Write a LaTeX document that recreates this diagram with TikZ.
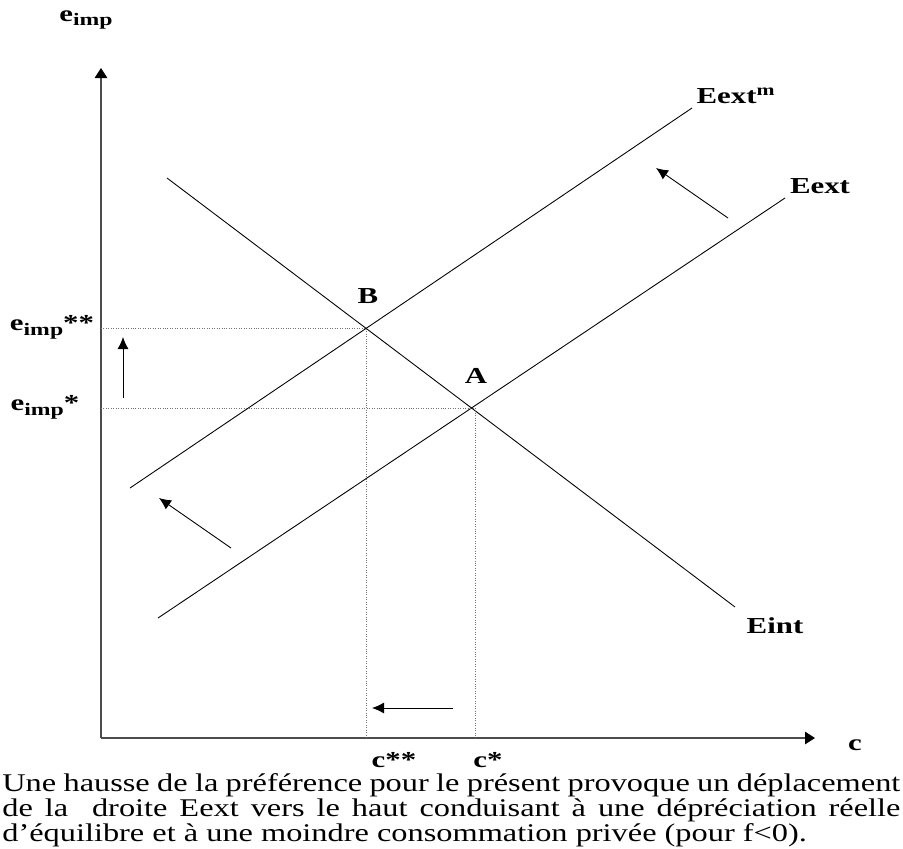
\documentclass[tikz,border=0pt]{standalone}
\usepackage{fontspec}
\setmainfont{Liberation Serif}
\newfontfamily\lblfont[FakeStretch=1.35]{Liberation Serif}
\newfontfamily\notefont[FakeStretch=1.27]{Liberation Serif}
\usetikzlibrary{arrows.meta}

\tikzset{
	axis/.style={line width=0.7pt, black!70, -{Triangle[length=2mm, width=2.5mm, fill=black, color=black]}},
	curve/.style={line width=0.5pt, black},
	guide/.style={densely dotted, line width=0.4pt, black!55},
	movearrow/.style={line width=0.5pt, black, -{Latex[length=2.4mm, width=2.2mm]}},
	lbl/.style={font=\lblfont\bfseries\fontsize{13}{15}\selectfont, inner sep=0pt},
}
\newcommand{\eimp}{e\raisebox{-0.45ex}{\fontsize{10}{12}\selectfont imp}}

\begin{document}
\begin{tikzpicture}[x=0.2mm, y=-0.2mm]
			\useasboundingbox (0, 0) rectangle (903, 848);

			% axes
			\coordinate (O) at (101, 738);
			\coordinate (ytop) at (101, 68);
			\coordinate (xend) at (815, 738);
			\draw[axis] (O) -- (ytop);
			\draw[axis] (O) -- (xend);
			\node[lbl] (ylab) at (86, 20) {\eimp};
			\node[lbl] (xlab) at (855, 745) {c};

			% curves
			\coordinate (eint_a) at (167, 178);
			\coordinate (eint_b) at (735, 607);
			\coordinate (eextm_a) at (130, 488);
			\coordinate (eextm_b) at (692, 108);
			\coordinate (eext_a) at (158, 618);
			\coordinate (eext_b) at (785, 198);
			\draw[curve] (eint_a) -- (eint_b);
			\draw[curve] (eextm_a) -- (eextm_b);
			\draw[curve] (eext_a) -- (eext_b);
			\node[lbl] (eint) at (775, 626) {Eint};
			\node[lbl] (eextm) at (736, 96) {Eext\textsuperscript{m}};
			\node[lbl] (eext) at (820, 186) {Eext};

			% equilibria
			\coordinate (B) at (366, 328);
			\coordinate (A) at (472, 408);
			\node[lbl] (labB) at (368, 296) {B};
			\node[lbl] (labA) at (476, 376) {A};
			\coordinate (By) at (101, 328);
			\coordinate (Ay) at (101, 408);
			\coordinate (Bx) at (366, 738);
			\coordinate (Ax) at (475, 738);
			\draw[guide] (By) -- (B) -- (Bx);
			\draw[guide] (Ay) -- (A) -| (Ax);
			\node[lbl] (e2) at (52, 327) {\eimp**};
			\node[lbl] (e1) at (45, 407) {\eimp*};
			\node[lbl] (c2) at (394, 760) {c**};
			\node[lbl] (c1) at (488, 760) {c*};

			% shifts
			\coordinate (s1a) at (123, 398);
			\coordinate (s1b) at (123, 337);
			\coordinate (s2a) at (453, 708);
			\coordinate (s2b) at (372, 708);
			\coordinate (s3a) at (231, 548);
			\coordinate (s3b) at (159, 498);
			\coordinate (s4a) at (728, 218);
			\coordinate (s4b) at (656, 168);
			\draw[movearrow] (s1a) -- (s1b);
			\draw[movearrow] (s2a) -- (s2b);
			\draw[movearrow] (s3a) -- (s3b);
			\draw[movearrow] (s4a) -- (s4b);

			% caption
			\node[anchor=north west, inner sep=0pt, text width=179.6mm, align=justify,
				font=\notefont\fontsize{14.5}{11.6}\selectfont] (note) at (2, 773)
				{Une hausse de la préférence pour le présent provoque un déplacement\linebreak
				de la~ droite Eext vers le haut conduisant à une dépréciation réelle\linebreak
				d’équilibre et à une moindre consommation privée (pour f<0).};
		\end{tikzpicture}
\end{document}
